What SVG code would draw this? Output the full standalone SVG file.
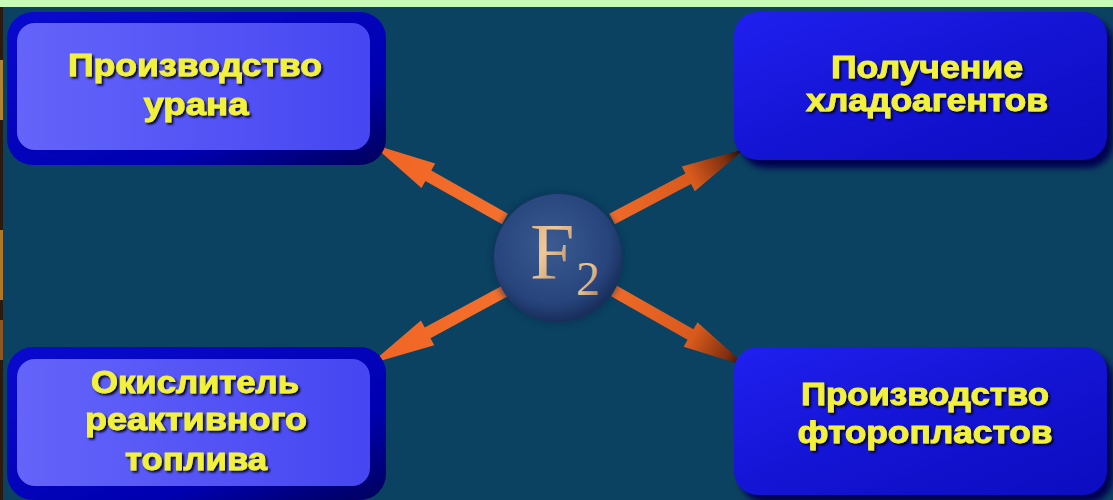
<svg xmlns="http://www.w3.org/2000/svg" width="1113" height="500" viewBox="0 0 1113 500">
<style>
.lbl{font-family:"Liberation Sans",Arial,sans-serif;font-weight:bold;font-size:31px;fill:#f2f23c;stroke:#f2f23c;stroke-width:0.9;text-anchor:middle;filter:url(#tsh)}
.arrowL{fill:url(#gArrL)}
.arrowR{fill:url(#gArrR)}
</style>
<defs>
<filter id="tsh" x="-10%" y="-30%" width="120%" height="160%">
<feGaussianBlur in="SourceAlpha" stdDeviation="1.2"/>
<feOffset dx="2" dy="2" result="o"/>
<feFlood flood-color="#000020" flood-opacity="0.95"/>
<feComposite in2="o" operator="in" result="s"/>
<feMerge><feMergeNode in="s"/><feMergeNode in="SourceGraphic"/></feMerge>
</filter>
<filter id="blur4" x="-10%" y="-10%" width="120%" height="120%"><feGaussianBlur stdDeviation="3"/></filter>
<linearGradient id="gInL" x1="0" y1="0" x2="1" y2="0">
<stop offset="0" stop-color="#6464fa"/><stop offset="1" stop-color="#4646f2"/>
</linearGradient>
<linearGradient id="gOutL" x1="0" y1="0" x2="1" y2="1">
<stop offset="0" stop-color="#0a0ad0"/><stop offset="0.7" stop-color="#0000b0"/><stop offset="1" stop-color="#00005a"/>
</linearGradient>
<linearGradient id="gR" x1="0" y1="0" x2="1" y2="1">
<stop offset="0" stop-color="#2020f0"/><stop offset="0.5" stop-color="#1414d4"/><stop offset="1" stop-color="#0c0cc0"/>
</linearGradient>
<radialGradient id="gSph" cx="0.45" cy="0.4" r="0.6">
<stop offset="0" stop-color="#3a5a90"/><stop offset="0.75" stop-color="#27457c"/><stop offset="1" stop-color="#182e5c"/>
</radialGradient>
<linearGradient id="gF" x1="0" y1="0" x2="1" y2="1">
<stop offset="0" stop-color="#d8aa78"/><stop offset="0.4" stop-color="#f0c898"/><stop offset="1" stop-color="#a07850"/>
</linearGradient>
<linearGradient id="gArrL" x1="0" y1="0" x2="1" y2="0">
<stop offset="0" stop-color="#f4702c"/><stop offset="1" stop-color="#f06424"/>
</linearGradient>
<linearGradient id="gArrR" x1="0" y1="0" x2="1" y2="0">
<stop offset="0" stop-color="#f06a28"/><stop offset="0.6" stop-color="#d85a1c"/><stop offset="0.85" stop-color="#803010"/><stop offset="1" stop-color="#100804"/>
</linearGradient>
<polygon id="arr" points="0,-6 0,6 88,6 88,14 153,0 88,-14 88,-6"/>
</defs>

<rect x="0" y="0" width="1113" height="500" fill="#0b4261"/>
<rect x="0" y="0" width="1113" height="7" fill="#c8fbb6"/>
<rect x="0" y="7" width="3" height="493" fill="#2a1a10"/>
<rect x="0" y="60" width="3" height="60" fill="#e8b040" opacity="0.7"/>
<rect x="0" y="230" width="3" height="70" fill="#e8a030" opacity="0.7"/>
<rect x="0" y="320" width="3" height="40" fill="#d08030" opacity="0.6"/>

<g id="connectors">
<g transform="translate(505,219) rotate(-150.6)"><use href="#arr" class="arrowL"/></g>
<g transform="translate(612,219) rotate(-27.8)"><use href="#arr" class="arrowR" transform="scale(0.98,1)"/></g>
<g transform="translate(505,291) rotate(151.6)"><use href="#arr" class="arrowL"/></g>
<g transform="translate(614,291) rotate(29.6)"><use href="#arr" class="arrowR"/></g>
</g>

<g id="center">
<circle cx="558" cy="258" r="66" fill="#0a2a50" opacity="0.6" filter="url(#blur4)"/>
<circle cx="558" cy="258" r="64" fill="url(#gSph)"/>
<text x="530" y="279" font-family="'Liberation Serif','Times New Roman',serif" font-size="80" fill="url(#gF)">F</text>
<text x="576" y="295" font-family="'Liberation Serif','Times New Roman',serif" font-size="48" fill="url(#gF)">2</text>
</g>

<g id="n1">
<rect x="7" y="12" width="379" height="153" rx="26" fill="url(#gOutL)"/>
<rect x="17" y="23" width="353" height="127" rx="18" fill="url(#gInL)"/>
<text class="lbl" x="195" y="76" textLength="254" lengthAdjust="spacingAndGlyphs">Производство</text>
<text class="lbl" x="196" y="115" textLength="105" lengthAdjust="spacingAndGlyphs">урана</text>
</g>

<g id="n2">
<rect x="740" y="18" width="373" height="150" rx="26" fill="#000050" filter="url(#blur4)"/>
<rect x="734" y="12" width="373" height="148" rx="24" fill="url(#gR)"/>
<text class="lbl" x="927" y="78" textLength="192" lengthAdjust="spacingAndGlyphs">Получение</text>
<text class="lbl" x="927" y="111" textLength="242" lengthAdjust="spacingAndGlyphs">хладоагентов</text>
</g>

<g id="n3">
<rect x="7" y="347" width="379" height="153" rx="26" fill="url(#gOutL)"/>
<rect x="17" y="359" width="353" height="127" rx="18" fill="url(#gInL)"/>
<text class="lbl" x="195" y="393" textLength="208" lengthAdjust="spacingAndGlyphs">Окислитель</text>
<text class="lbl" x="196" y="430" textLength="222" lengthAdjust="spacingAndGlyphs">реактивного</text>
<text class="lbl" x="196" y="470" textLength="142" lengthAdjust="spacingAndGlyphs">топлива</text>
</g>

<g id="n4">
<rect x="740" y="353" width="373" height="150" rx="26" fill="#000050" filter="url(#blur4)"/>
<rect x="734" y="347" width="373" height="148" rx="24" fill="url(#gR)"/>
<text class="lbl" x="925" y="405" textLength="248" lengthAdjust="spacingAndGlyphs">Производство</text>
<text class="lbl" x="925" y="443" textLength="255" lengthAdjust="spacingAndGlyphs">фторопластов</text>
</g>
</svg>
